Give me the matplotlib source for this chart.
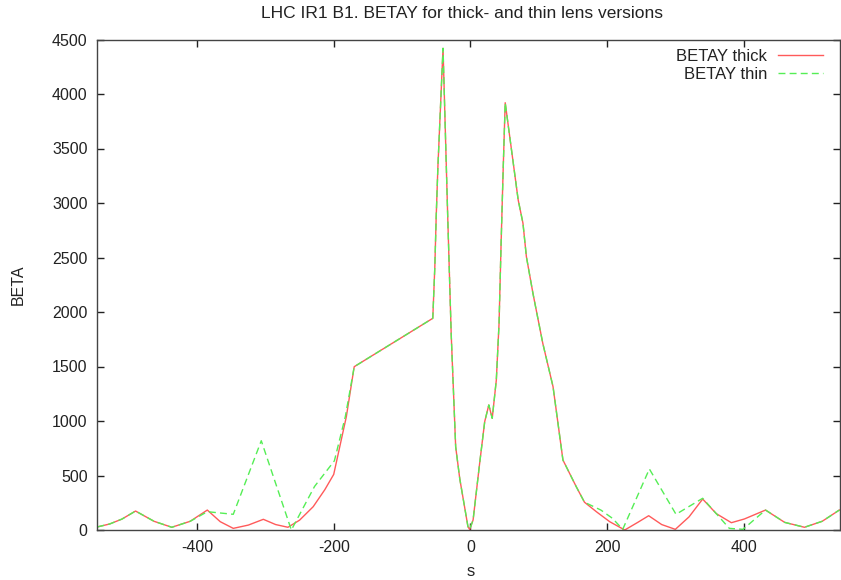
import matplotlib
matplotlib.use("Agg")
import matplotlib.pyplot as plt

plt.rcParams['font.family'] = ['Liberation Sans', 'DejaVu Sans']
plt.rcParams['axes.unicode_minus'] = False

title = "LHC IR1 B1. BETAY for thick- and thin lens versions"
xlabel = "s"
ylabel = "BETA"
label_thick = "BETAY thick"
label_thin = "BETAY thin"

# shared central part
s_center = [-170, -55, -52, -50, -47.5, -40, -33, -28, -21.5, -15.5, -3.5, -1, 4, 13.6, 21, 27, 32, 38,
            42, 45, 48, 51, 70, 77, 82, 91.6, 106, 121, 135.5, 155, 167]
b_center = [1498, 1942, 2415, 2874, 3333, 4419, 2844, 1790, 764, 470, 30, 5, 92, 612, 994, 1147, 1025, 1376,
            1896, 2630, 3303, 3920, 3028, 2814, 2508, 2171, 1713, 1315, 642, 397, 255]

# thick lens
s_thick_left = [-546, -528, -510, -490, -463, -437, -410, -385, -366, -347, -325, -303, -285, -267, -250, -230,
                -213, -200, -181.5]
b_thick_left = [28, 55, 100, 174, 80, 25, 80, 183, 76, 15, 45, 98, 50, 25, 90, 214,
                370, 510, 1040]
s_thick_right = [185, 204, 226, 245, 261, 280, 300, 320, 340, 360, 382, 401, 432, 460, 489, 515, 540]
b_thick_right = [165, 76, 0, 70, 131, 50, 6, 120, 284, 150, 67, 101, 183, 70, 25, 80, 183]

# thin lens
s_thin_left = [-546, -528, -510, -490, -463, -437, -410, -385, -347, -306, -262, -228, -199, -183]
b_thin_left = [28, 55, 100, 174, 80, 25, 80, 168, 144, 819, 0, 400, 635, 1040]
s_thin_right = [191, 208, 223, 262, 301, 340, 379, 399, 432, 460, 489, 515, 540]
b_thin_right = [183, 107, 6, 560, 144, 291, 15, 6, 183, 70, 25, 80, 183]

s_thick = s_thick_left + s_center + s_thick_right
b_thick = b_thick_left + b_center + b_thick_right
s_thin = s_thin_left + s_center + s_thin_right
b_thin = b_thin_left + b_center + b_thin_right

xticks = [-400, -200, 0, 200, 400]
yticks = [0, 500, 1000, 1500, 2000, 2500, 3000, 3500, 4000, 4500]

fig = plt.figure(figsize=(8.41, 5.80), dpi=100)
ax = fig.add_axes([97.3 / 841, 50 / 580, (840 - 97.3) / 841, (530 - 39.5) / 580])

ax.plot(s_thick, b_thick, color='#ff5a5a', lw=1.0, label=label_thick)
ax.plot(s_thin, b_thin, color='#55ee55', lw=1.0, dashes=(5, 3), label=label_thin)

ax.set_xlim(-546, 541)
ax.set_ylim(0, 4500)
ax.set_xticks(xticks)
ax.set_yticks(yticks)
ax.tick_params(direction='in', length=5, width=1, colors='#222222', labelsize=11.5,
               top=True, right=True, pad=7)
for sp in ax.spines.values():
    sp.set_color('#444444')
    sp.set_linewidth(1.0)

fig.text(462 / 841, 1 - 13 / 580, title, ha='center', va='center', fontsize=12.5, color='#222222')
fig.text(471 / 841, 1 - 572 / 580, xlabel, ha='center', va='center', fontsize=12, color='#222222')
fig.text(18 / 841, 1 - 285 / 580, ylabel, ha='center', va='center', rotation=90, fontsize=11.5, color='#222222')

leg = ax.legend(loc='upper right', bbox_to_anchor=(0.977, 0.9806), frameon=False, fontsize=12,
                markerfirst=False, handlelength=2.7, handletextpad=0.66, borderaxespad=0.0,
                labelspacing=0.17, borderpad=0.0)
for t in leg.get_texts():
    t.set_color('#222222')
    t.set_ha('right')

fig.savefig("out.png", dpi=100)
